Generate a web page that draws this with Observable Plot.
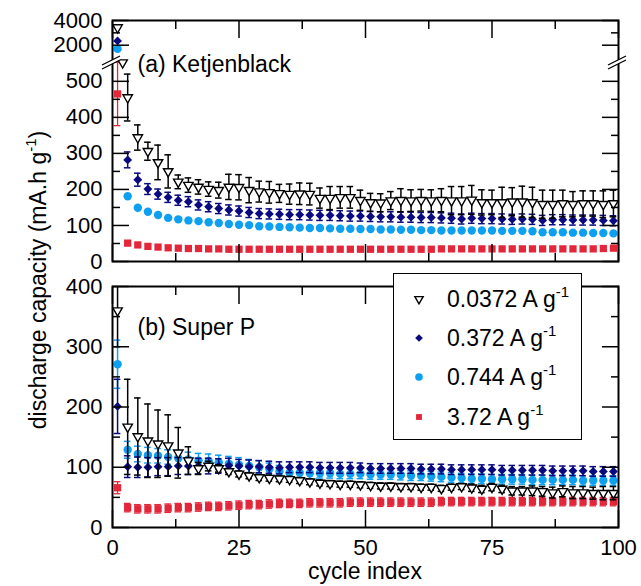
<!DOCTYPE html>
<html><head><meta charset="utf-8">
<script src="https://cdn.jsdelivr.net/npm/d3@7"></script>
<script src="https://cdn.jsdelivr.net/npm/@observablehq/plot@0.6"></script>
<style>
body{margin:0;background:#fff;}
#chart{position:relative;width:641px;height:586px;background:#fff;font-family:"Liberation Sans",Arial,sans-serif;color:#000;overflow:hidden}
#chart > svg{position:absolute;left:0}
.lbl{position:absolute;font-size:23px;line-height:1;white-space:nowrap}
.sup{font-size:15px;position:relative;top:-10px}
.legbox{position:absolute;left:393px;top:273px;width:189px;height:167px;box-sizing:border-box;border:1.5px solid #000;background:#fff}
</style></head><body><div id="chart"></div>
<script>
// ---------- data ----------
const cycles = [1,3,5,7,9,11,13,15,17,19,21,23,25,27,29,31,33,35,37,39,41,43,45,47,49,51,53,55,57,59,61,63,65,67,69,71,73,75,77,79,81,83,85,87,89,91,93,95,97,99];
const seriesLabels = ["0.0372 A g", "0.372 A g", "0.744 A g", "3.72 A g"];

// (a) Ketjenblack
const ketjenBlack = [3430,455,344,306,275,250,221,212,207,201, 198,207,206,198,194,192,189,187,188,187, 176,176,178,178,170,164,163,169,170,169, 170,169,170,169,169,171,164,164,164,166, 166,164,159,159,161,159,161,161,159,161];
const ketjenBlackErr = [0,65,35,25,48,46,19,20,20,20, 22,35,35,35,29,30,25,28,30,30, 28,32,30,30,28,25,25,25,32,30, 30,30,32,39,39,40,35,34,42,39, 43,42,39,39,37,35,35,35,37,37];
const ketjenBlackCycle2 = [2];
const ketjenBlackCycle2Value = [552];
const ketjenNavy = [2350,282,227,201,187,178,170,166,157,152, 147,143,140,136,133,132,131,130,130,129, 128,128,127,126,126,125,124,124,123,123, 122,122,121,120,118,120,119,119,118,117, 118,117,114,116,116,115,115,115,114,113];
const ketjenNavyErr = [0,22,18,15,14,14,14,14,14,14, 14,14,14,14,14,14,14,14,14,14, 14,14,14,14,14,14,14,14,14,14, 14,14,14,14,14,14,14,14,14,14, 14,14,14,14,14,14,14,14,14,14];
const ketjenBlue = [1700,181,149,138,129,121,117,114,112,109, 107,104,102,101,98,97,96,95,94,93, 93,92,91,91,90,90,89,89,88,88, 87,87,86,86,86,86,86,86,85,85, 85,84,81,81,81,80,80,79,79,78];
const ketjenBlueErr = [0,0,0,0,0,0,0,0,0,0, 0,0,0,0,0,0,0,0,0,0, 0,0,0,0,0,0,0,0,0,0, 0,0,0,0,0,0,0,0,0,0, 0,0,0,0,0,0,0,0,0,0];
const ketjenRed = [465,51,46,42,40,38,37,36,36,35, 35,34,34,34,34,34,34,34,34,34, 34,34,34,34,34,34,34,34,34,34, 34,34,35,35,35,35,35,35,35,35, 35,35,35,35,35,35,35,35,36,37];
const ketjenRedErr = [88,0,0,0,0,0,0,0,0,0, 0,0,0,0,0,0,0,0,0,0, 0,0,0,0,0,0,0,0,0,0, 0,0,0,0,0,0,0,0,0,0, 0,0,0,0,0,0,0,0,0,0];

// (b) Super P
const superBlack = [360,167,151,144,139,136,124,111,98,102, 98,93,89,86,83,82,81,80,78,76, 74,73,72,72,71,70,69,69,68,68, 67,67,65,67,68,66,64,67,64,61, 61,61,60,58,60,58,58,57,57,57];
const superBlackErr = [60,79,64,61,56,51,42,23,10,8, 6,5,5,5,5,5,5,5,5,5, 5,5,5,5,5,5,5,5,5,5, 5,5,5,5,5,6,6,6,6,7, 7,8,8,9,9,10,10,10,11,11];
const superNavy = [201,101,100,100,101,101,102,102,102,102, 102,103,102,101,101,100,99,100,100,100, 99,99,99,99,99,98,98,98,98,98, 97,97,97,96,96,96,96,96,95,95, 95,95,95,94,94,94,94,93,93,93];
const superNavyErr = [45,18,17,16,15,15,14,14,13,13, 12,12,11,11,10,10,10,9,9,9, 9,9,9,9,8,8,8,8,8,8, 8,8,8,8,8,8,8,8,8,8, 8,8,8,8,8,8,8,8,8,8];
const superBlue = [271,129,122,120,119,117,115,113,111,110, 108,106,104,102,100,97,93,91,91,90, 90,90,89,89,89,88,88,88,87,86, 86,85,84,83,82,81,81,80,80,80, 80,79,79,79,79,79,78,78,78,78];
const superBlueErr = [40,14,13,13,12,12,12,12,12,12, 12,12,12,11,11,10,10,9,9,9, 8,8,8,8,8,8,8,8,8,8, 8,8,8,8,8,8,8,8,8,8, 8,8,8,8,8,8,8,8,8,8];
const superRed = [66,33,31,31,31,32,33,33,34,35, 35,36,37,38,38,39,40,40,40,41, 41,41,41,42,42,42,42,42,42,42, 42,42,43,43,43,43,43,43,43,43, 43,43,43,43,43,43,43,43,43,43];
const superRedErr = [10,7,7,7,7,7,7,7,7,7, 7,7,7,7,7,7,7,7,7,7, 7,7,7,7,7,7,7,7,7,7, 7,7,7,7,7,7,7,7,7,7, 7,7,7,7,7,7,7,7,7,7];

// axis ticks
const xMajor = [0,25,50,75,100];
const xMinor = [12.5,37.5,62.5,87.5];
const topYMajor = [0,100,200,300,400,500,2000,4000];
const topYMinor = [50,150,250,350,450,3000];
const topYLabels = [0,100,200,300,400,500,2000,4000];
const botYMajor = [0,100,200,300,400];
const botYMinor = [50,150,250,350];

// ---------- styling ----------
const BLACK = "#000", NAVY = "#0a0a80", BLUE = "#0ea0f0", RED = "#e3263a";
const FONT = "Liberation Sans, Arial, sans-serif";
const plain = d => String(d);

function rows(vals, errs) { return cycles.map((c, i) => ({cycle: c, v: vals[i], e: errs[i]})); }

function errMarks(data, color, sw) {
  const d = data.filter(r => r.e > 0);
  return [
    Plot.ruleX(d, {x: "cycle", y1: r => r.v - r.e, y2: r => r.v + r.e, stroke: color, strokeWidth: sw, clip: true}),
    Plot.ruleY(d, {y: r => r.v + r.e, x1: r => r.cycle - 0.65, x2: r => r.cycle + 0.65, stroke: color, strokeWidth: sw, clip: true}),
    Plot.ruleY(d, {y: r => r.v - r.e, x1: r => r.cycle - 0.65, x2: r => r.cycle + 0.65, stroke: color, strokeWidth: sw, clip: true})
  ];
}
function seriesMarks(black, navy, blue, red) {
  return [
    ...errMarks(red, RED, 1.3),
    Plot.dot(red, {x: "cycle", y: "v", symbol: "square", r: 4.1, fill: RED}),
    ...errMarks(blue, BLUE, 1.5),
    Plot.dot(blue, {x: "cycle", y: "v", symbol: "circle", r: 4.2, fill: BLUE}),
    ...errMarks(navy, NAVY, 1.5),
    Plot.dot(navy, {x: "cycle", y: "v", symbol: "diamond2", r: 4.0, fill: NAVY}),
    ...errMarks(black, BLACK, 1.5),
    Plot.dot(black, {x: "cycle", y: "v", symbol: "triangle", rotate: 180, r: 3.5, fill: "white", stroke: BLACK, strokeWidth: 1.4})
  ];
}
function frameAxes(yMajor, yMinor, yLabels, xLabels) {
  const m = [
    Plot.axisY(yMajor, {anchor: "left", tickSize: -17, strokeWidth: 1.5, fill: "none", label: null}),
    Plot.axisY(yMinor, {anchor: "left", tickSize: -8, strokeWidth: 1.5, fill: "none", label: null}),
    Plot.axisY(yMajor, {anchor: "right", tickSize: -17, strokeWidth: 1.5, fill: "none", label: null}),
    Plot.axisY(yMinor, {anchor: "right", tickSize: -8, strokeWidth: 1.5, fill: "none", label: null}),
    Plot.axisY(yLabels, {anchor: "left", tickSize: 0, tickPadding: 10, tickFormat: plain, fontSize: 22, fill: "black", label: null}),
    Plot.axisX(xMajor, {anchor: "bottom", tickSize: -17, strokeWidth: 1.5, fill: "none", label: null}),
    Plot.axisX(xMinor, {anchor: "bottom", tickSize: -8, strokeWidth: 1.5, fill: "none", label: null}),
    Plot.axisX(xMajor, {anchor: "top", tickSize: -17, strokeWidth: 1.5, fill: "none", label: null}),
    Plot.axisX(xMinor, {anchor: "top", tickSize: -8, strokeWidth: 1.5, fill: "none", label: null}),
    Plot.frame({stroke: "black", strokeWidth: 2})
  ];
  if (xLabels) m.push(Plot.axisX(xLabels, {anchor: "bottom", tickSize: 0, tickPadding: 12, tickFormat: plain, fontSize: 22, fill: "black", label: null}));
  return m;
}

const chart = document.getElementById("chart");

// ---------- top panel ----------
const topPlot = Plot.plot({
  width: 641, height: 272,
  marginLeft: 112, marginRight: 23, marginTop: 20, marginBottom: 11,
  style: {fontFamily: FONT, background: "transparent", overflow: "visible"},
  x: {domain: [0, 100]},
  y: {type: "linear", domain: [0, 555, 680, 4000], range: [261, 61, 61, 20]},
  marks: [
    ...seriesMarks(
      [...rows(ketjenBlack, ketjenBlackErr), ...ketjenBlackCycle2.map((c, i) => ({cycle: c, v: ketjenBlackCycle2Value[i], e: 0}))],
      rows(ketjenNavy, ketjenNavyErr), rows(ketjenBlue, ketjenBlueErr), rows(ketjenRed, ketjenRedErr)),
    ...frameAxes(topYMajor, topYMinor, topYLabels, null),
    Plot.text(["(a) Ketjenblack"], {frameAnchor: "top-left", dx: 25, dy: 35, lineAnchor: "top", textAnchor: "start", fontSize: 23, fill: "black"})
  ]
});
topPlot.style.top = "0px";
chart.appendChild(topPlot);

// axis break marks
function drawBreak(svg, x, y) {
  const g = d3.select(svg).append("g");
  g.append("path").attr("d", `M${x-10},${y+6}L${x+8},${y-3}L${x+8},${y-7}L${x-10},${y+2}Z`).attr("fill", "white");
  g.append("path").attr("d", `M${x-10},${y+6}L${x+8},${y-3}M${x-10},${y+2}L${x+8},${y-7}`)
    .attr("stroke", "black").attr("stroke-width", 1.3).attr("fill", "none");
}
drawBreak(topPlot, 112, 63);
drawBreak(topPlot, 618, 63);

// ---------- bottom panel ----------
const botPlot = Plot.plot({
  width: 641, height: 324,
  marginLeft: 112, marginRight: 23, marginTop: 24, marginBottom: 59,
  style: {fontFamily: FONT, background: "transparent", overflow: "visible"},
  x: {domain: [0, 100]},
  y: {domain: [0, 400]},
  marks: [
    ...seriesMarks(rows(superBlack, superBlackErr), rows(superNavy, superNavyErr), rows(superBlue, superBlueErr), rows(superRed, superRedErr)),
    ...frameAxes(botYMajor, botYMinor, botYMajor, xMajor),
    Plot.text(["(b) Super P"], {frameAnchor: "top-left", dx: 25, dy: 32, lineAnchor: "top", textAnchor: "start", fontSize: 23, fill: "black"})
  ]
});
botPlot.style.top = "262px";
chart.appendChild(botPlot);

// ---------- labels ----------
const ylab = document.createElement("div");
ylab.className = "lbl";
ylab.style.left = "38px"; ylab.style.top = "280px";
ylab.style.transform = "translate(-50%,-50%) rotate(-90deg)";
ylab.innerHTML = 'discharge capacity (mA.h g<span class="sup">-1</span>)';
chart.appendChild(ylab);

const xlab = document.createElement("div");
xlab.className = "lbl";
xlab.style.left = "365px"; xlab.style.top = "560px";
xlab.style.transform = "translateX(-50%)";
xlab.textContent = "cycle index";
chart.appendChild(xlab);

// ---------- legend ----------
const box = document.createElement("div");
box.className = "legbox";
chart.appendChild(box);
const legSym = [
  {type: d3.symbolTriangle, size: 30, fill: "white", stroke: BLACK, rot: 180},
  {type: d3.symbolDiamond2, size: 38, fill: NAVY, stroke: "none", rot: 0},
  {type: d3.symbolCircle, size: 46, fill: BLUE, stroke: "none", rot: 0},
  {type: d3.symbolSquare, size: 34, fill: RED, stroke: "none", rot: 0}
];
const rowY = [299, 338, 377, 417];
seriesLabels.forEach((lab, i) => {
  const s = legSym[i];
  const sv = d3.select(chart).append("svg").attr("width", 20).attr("height", 20)
    .style("position", "absolute").style("left", (419 - 10) + "px").style("top", (rowY[i] - 10) + "px");
  sv.append("path").attr("d", d3.symbol(s.type, s.size)())
    .attr("transform", `translate(10,10) rotate(${s.rot})`)
    .attr("fill", s.fill).attr("stroke", s.stroke).attr("stroke-width", 1.4);
  const t = document.createElement("div");
  t.className = "lbl";
  t.style.left = "447px"; t.style.top = (rowY[i] - 11.5) + "px";
  t.innerHTML = lab + '<span class="sup">-1</span>';
  chart.appendChild(t);
});
</script></body></html>
